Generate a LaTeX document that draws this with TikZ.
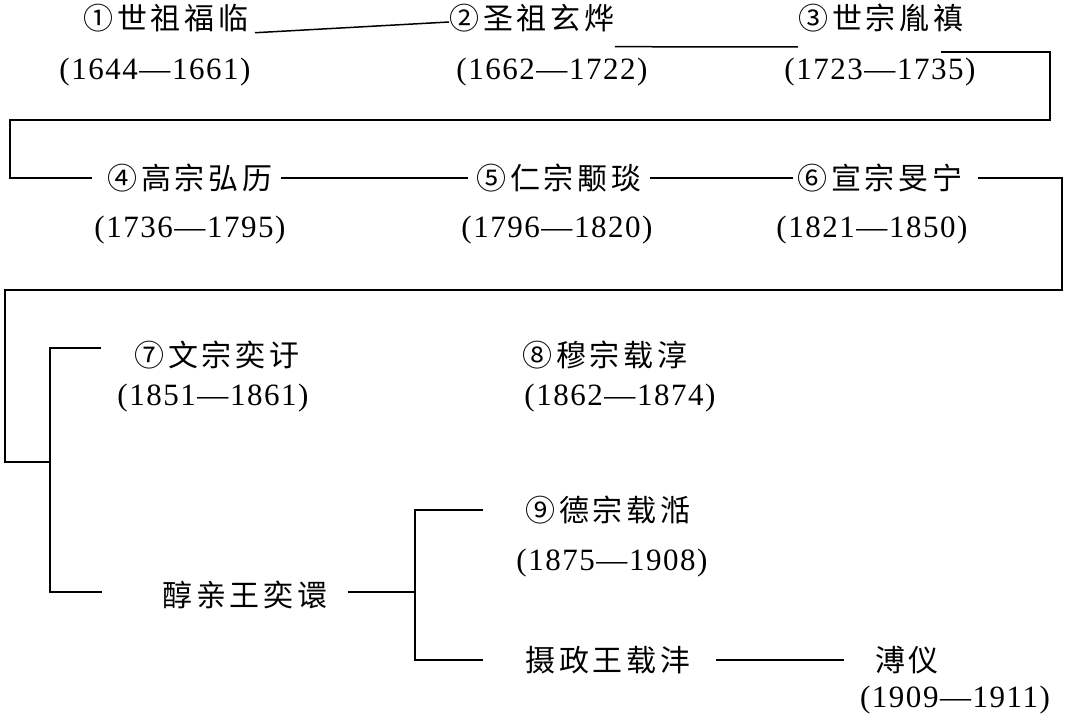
\documentclass[tikz,border=0pt]{standalone}
\usepackage{fontspec}
\setmainfont{Liberation Serif}
\newfontfamily\cjk[LetterSpace=12]{Noto Sans CJK SC}
\newfontfamily\yrfont[LetterSpace=5]{Liberation Serif}
\usepackage{tikz}
\usetikzlibrary{positioning}
\usetikzlibrary{calc}

\begin{document}
\begin{tikzpicture}[x=1pt, y=-1pt, line width=1.5pt,
  emperor/.style={font=\cjk\fontsize{30}{32}\selectfont, inner sep=0pt},
  reign/.style={font=\yrfont\fontsize{31}{33}\selectfont, inner sep=0pt}]
\useasboundingbox (0,0) rectangle (1075,715);
\node[emperor] (n1) at (166,18) {①世祖福临};
\node[emperor] (n2) at (532,18) {②圣祖玄烨};
\node[emperor] (n3) at (881,18) {③世宗胤禛};
\node[reign] (d1) at (155,72) {(1644—1661)};
\node[reign] (d2) at (552,72) {(1662—1722)};
\node[reign] (d3) at (880,72) {(1723—1735)};
\node[emperor] (n4) at (190,178) {④高宗弘历};
\node[emperor] (n5) at (559,178) {⑤仁宗颙琰};
\node[emperor] (n6) at (880,178) {⑥宣宗旻宁};
\node[reign] (d4) at (190,230) {(1736—1795)};
\node[reign] (d5) at (557,230) {(1796—1820)};
\node[reign] (d6) at (872,230) {(1821—1850)};
\node[emperor] (n7) at (217,355) {⑦文宗奕𬣙};
\node[reign] (d7) at (213,398) {(1851—1861)};
\node[emperor] (n8) at (605,355) {⑧穆宗载淳};
\node[reign] (d8) at (620,398) {(1862—1874)};
\node[emperor] (n9) at (608,510) {⑨德宗载湉};
\node[reign] (d9) at (612,563) {(1875—1908)};
\node[emperor] (n10) at (245,595) {醇亲王奕𫍽};
\node[emperor] (n11) at (608,660) {摄政王载沣};
\node[emperor] (n12) at (907,660) {溥仪};
\node[reign] (d12) at (955,700) {(1909—1911)};
\coordinate (c1) at (1050,120);
\coordinate (c2) at (10,178);
\coordinate (c3) at (1062,290);
\coordinate (c4) at (5,462);
\coordinate (b1) at (50,462);
\coordinate (b2) at (415,592);
\draw ([xshift=6pt]n1.south east) -- ([yshift=-4pt]n2.west);
\draw ([yshift=-14pt]n2.south east) -- ([yshift=-14pt]n3.south west);
\draw ([xshift=-35pt,yshift=5pt]d3.north east) -| (c1) -| (c2) -- ([xshift=-15pt]n4.west);
\draw ([xshift=8pt]n4.east) -- ([xshift=-8pt]n5.west);
\draw ([xshift=8pt]n5.east) -- ([xshift=-4pt]n6.west);
\draw ([xshift=15pt]n6.east) -| (c3) -| (c4) -- (b1);
\draw ([xshift=-33pt,yshift=7pt]n7.west) -| (b1) |- ([xshift=-60pt,yshift=3pt]n10.west);
\draw ([xshift=20pt,yshift=3pt]n10.east) -- (b2);
\draw ([xshift=-42pt]n9.west) -| (b2) |- ([xshift=-42pt]n11.west);
\draw ([xshift=25pt]n11.east) -- ([xshift=-30pt]n12.west);
\end{tikzpicture}
\end{document}
